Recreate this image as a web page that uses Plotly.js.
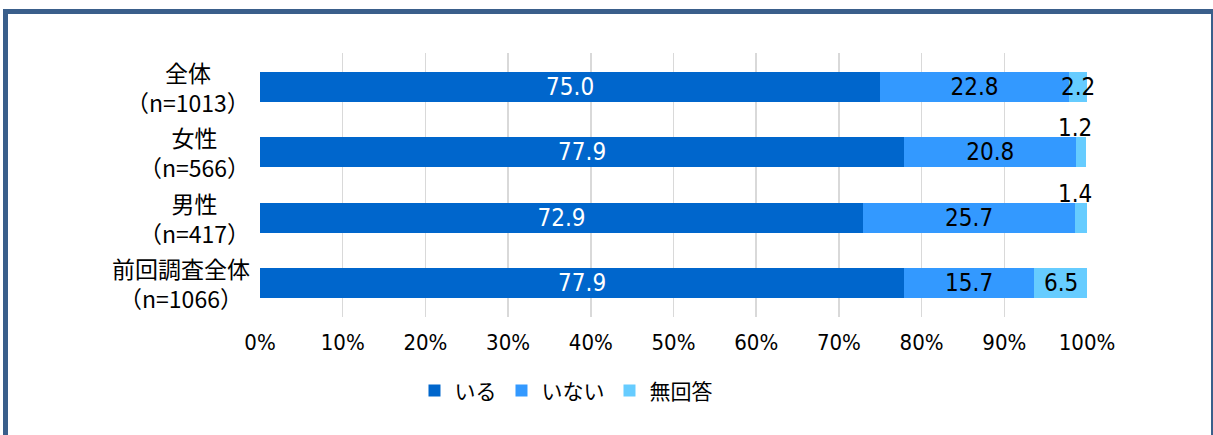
<!DOCTYPE html>
<html>
<head>
<meta charset="utf-8">
<script src="https://cdn.plot.ly/plotly-3.0.1.min.js"></script>
<style>
  body { margin: 0; background: #fff; }
  #frame {
    position: absolute; left: 3px; top: 9px; width: 1203px; height: 440px;
    border-top: 5px solid #3a5f8b; border-left: 5px solid #3a5f8b; border-right: 2px solid #3a5f8b;
    box-sizing: content-box;
  }
  #chart { position: absolute; left: 0; top: 0; width: 1213px; height: 435px; }
</style>
</head>
<body>
<div id="frame"></div>
<div id="chart"></div>
<script>
// カテゴリ（上から順）
var categories = ['全体', '女性', '男性', '前回調査全体'];
var sampleSizes = [1013, 566, 417, 1066];
var seriesNames = ['いる', 'いない', '無回答'];
var iru = [75.0, 77.9, 72.9, 77.9];
var inai = [22.8, 20.8, 25.7, 15.7];
var mukaitou = [2.2, 1.2, 1.4, 6.5];
var seriesColors = ['#0066cc', '#3399ff', '#66ccff'];

var numFont = 'Liberation Sans Narrow, DejaVu Sans Condensed, Noto Sans CJK JP, sans-serif';
var jpFont = 'Noto Sans CJK JP, sans-serif';

function makeTrace(vals, i, textColor, showText) {
  return {
    type: 'bar',
    orientation: 'h',
    name: seriesNames[i],
    x: vals,
    y: categories,
    marker: { color: seriesColors[i] },
    text: showText ? vals.map(function (v) { return v.toFixed(1); }) : null,
    textposition: showText ? 'inside' : 'none',
    insidetextanchor: 'middle',
    textangle: 0,
    constraintext: 'none',
    textfont: { family: numFont, size: 24, color: textColor },
    hoverinfo: 'name+x',
  };
}

var annotations = [];
// カテゴリラベル（中央揃えの2行）
categories.forEach(function (c, k) {
  annotations.push({
    x: 0, y: c, xref: 'paper', yref: 'y',
    xanchor: 'right', yanchor: 'middle', align: 'center',
    xshift: -8,
    text: c + '<br>（n=' + sampleSizes[k] + '）',
    showarrow: false,
    font: { family: jpFont, size: 23, color: '#000' },
  });
});
// 無回答のラベル（2未満はバーの上）
mukaitou.forEach(function (v, k) {
  var small = v < 2;
  annotations.push({
    x: iru[k] + inai[k] + v / 2,
    y: categories[k],
    xref: 'x', yref: 'y',
    text: v.toFixed(1),
    showarrow: false,
    xshift: small ? -6 : 0,
    yshift: small ? 24 : 0,
    font: { family: numFont, size: 24, color: '#000' },
  });
});

var data = [
  makeTrace(iru, 0, '#ffffff', true),
  makeTrace(inai, 1, '#000000', true),
  makeTrace(mukaitou, 2, '#000000', false),
];

var layout = {
  width: 1213,
  height: 435,
  barmode: 'stack',
  bargap: 0.545,
  margin: { l: 260, r: 126, t: 53, b: 118 },
  paper_bgcolor: 'rgba(0,0,0,0)',
  plot_bgcolor: 'rgba(0,0,0,0)',
  xaxis: {
    range: [0, 100],
    dtick: 10,
    ticksuffix: '%',
    showgrid: true,
    gridcolor: '#d9d9d9',
    gridwidth: 1.5,
    zeroline: false,
    showline: false,
    ticks: '',
    ticklabelstandoff: 10,
    tickfont: { family: numFont, size: 22, color: '#000' },
    fixedrange: true,
  },
  yaxis: {
    autorange: 'reversed',
    showgrid: false,
    zeroline: false,
    showline: false,
    ticks: '',
    showticklabels: false,
    fixedrange: true,
  },
  showlegend: true,
  legend: {
    orientation: 'h',
    x: 0.37,
    xanchor: 'center',
    y: -0.28,
    yanchor: 'middle',
    font: { family: jpFont, size: 21, color: '#000' },
    itemwidth: 30,
    traceorder: 'normal',
  },
  annotations: annotations,
};

Plotly.newPlot('chart', data, layout, { displayModeBar: false, staticPlot: true });
</script>
</body>
</html>
